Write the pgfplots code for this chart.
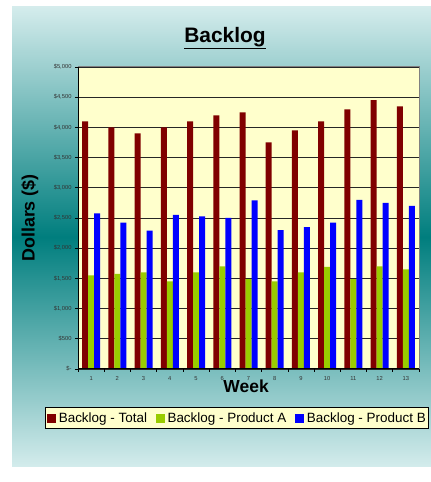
\documentclass[border=0pt]{standalone}
\usepackage{fontspec}
\setmainfont{Liberation Sans}
\usepackage{pgfplots}
\usepackage{pgfplotstable}
\pgfplotsset{compat=1.18}

\definecolor{bgl}{RGB}{212,236,236}
\definecolor{bgd}{RGB}{0,126,126}
\definecolor{plotbg}{RGB}{255,255,204}
\definecolor{ctotal}{RGB}{128,0,0}
\definecolor{cprodA}{RGB}{153,204,0}
\definecolor{cprodB}{RGB}{0,0,255}

% weekly backlog in dollars
\pgfplotstableread{
week total prodA prodB
1  4100 1550 2575
2  4000 1575 2425
3  3900 1600 2290
4  4000 1450 2550
5  4100 1600 2525
6  4200 1700 2500
7  4250 1490 2790
8  3750 1450 2300
9  3950 1600 2350
10 4100 1690 2425
11 4300 1490 2800
12 4450 1700 2750
13 4350 1650 2700
}\backlog

\begin{document}
\begin{tikzpicture}
\useasboundingbox (0bp,0bp) rectangle (431bp,482bp);
\fill[white] (0bp,0bp) rectangle (431bp,482bp);
\shade[top color=bgl, bottom color=bgl, middle color=bgd] (12bp,15bp) rectangle (431bp,475bp);

\begin{axis}[
    at={(78bp,113bp)}, anchor=south west,
    scale only axis,
    width=341bp, height=302bp,
    ybar=0pt, bar width=6bp,
    xmin=0.5, xmax=13.5,
    ymin=0, ymax=5000,
    axis background/.style={fill=plotbg},
    axis line style={black!50, line width=1bp},
    ymajorgrids, major grid style={black!85, line width=0.8bp},
    xtick={1,...,13}, major x tick style={draw=none},
    minor xtick={0.5,1.5,...,13.5},
    ytick={0,500,...,5000},
    yticklabels={{\$-},{\$500},{\$1,000},{\$1,500},{\$2,000},{\$2,500},{\$3,000},{\$3,500},{\$4,000},{\$4,500},{\$5,000}},
    tick pos=left, tick align=outside,
    major tick length=3bp, minor tick length=3bp,
    tick style={black, line width=0.6bp},
    /pgf/number format/assume math mode=true,
    ticklabel style={font=\fontsize{5.8}{6}\selectfont, text=black!80},
    xticklabel style={yshift=-1bp},
    title={\underline{Backlog}},
    title style={font=\fontsize{21}{24}\bfseries, at={(axis description cs:0.431,1.075)}, anchor=center, yshift=0pt},
    xlabel={Week},
    xlabel style={font=\fontsize{17.5}{20}\bfseries, at={(axis description cs:0.493,-0.056)}, anchor=center},
    ylabel={Dollars (\$)},
    ylabel style={font=\fontsize{18}{20}\bfseries, at={(axis description cs:-0.141,0.5)}, anchor=center},
    legend columns=-1,
    legend style={at={(axis description cs:-0.097,-0.126)}, anchor=north west,
        draw=black, line width=0.8bp, fill=plotbg,
        font=\fontsize{13.5}{15}\selectfont,
        inner xsep=2bp, inner ysep=4bp,
        nodes={inner sep=1bp},
        /tikz/every odd column/.append style={column sep=1.5bp},
        /tikz/every even column/.append style={column sep=8bp}},
    legend image code/.code={\fill[#1] (0bp,-4.5bp) rectangle (9bp,4.5bp);},
]
\addplot[fill=ctotal, draw=none] table[x=week, y=total] {\backlog};
\addlegendentry{Backlog - Total}
\addplot[fill=cprodA, draw=none] table[x=week, y=prodA] {\backlog};
\addlegendentry{Backlog - Product A}
\addplot[fill=cprodB, draw=none] table[x=week, y=prodB] {\backlog};
\addlegendentry{Backlog - Product B}
\draw[black, line width=1bp] (rel axis cs:0,1) -- (rel axis cs:0,0) -- (rel axis cs:1,0);
\end{axis}
\end{tikzpicture}
\end{document}
